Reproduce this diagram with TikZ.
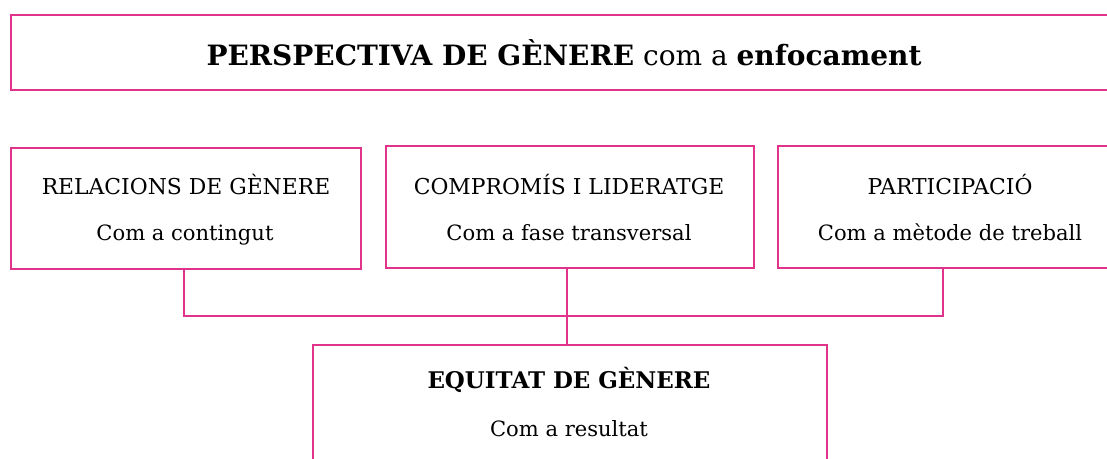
\documentclass[tikz,border=0pt]{standalone}
\usepackage{fontspec}
\setmainfont{DejaVu Serif}
\definecolor{pinkline}{HTML}{DF348A}
\begin{document}
\begin{tikzpicture}[x=0.75pt,y=-0.75pt,
  box/.style={draw=pinkline,line width=1.45pt,rectangle,inner sep=0pt},
  conn/.style={draw=pinkline,line width=1.45pt},
  capt/.style={anchor=base,inner sep=0pt,font=\fontsize{16.4pt}{19pt}\selectfont},
  txt/.style={anchor=base,inner sep=0pt,font=\fontsize{15.8pt}{19pt}\selectfont},
  bcapt/.style={anchor=base,inner sep=0pt,font=\fontsize{17.2pt}{20pt}\selectfont\bfseries},
  ttl/.style={anchor=base,inner sep=0pt,font=\fontsize{21pt}{25pt}\selectfont}]
\useasboundingbox (0,0) rectangle (1107,459);
\clip (0,0) rectangle (1107,459);
% boxes
\node[box,minimum width=829.5pt,minimum height=56.25pt] (title) at (564,52.5) {};
\node[box,minimum width=262.5pt,minimum height=90.75pt] (b1) at (186,208.5) {};
\node[box,minimum width=276pt,minimum height=91.5pt] (b2) at (570,207) {};
\node[box,minimum width=258pt,minimum height=91.5pt] (b3) at (950,207) {};
\node[box,minimum width=385.5pt,minimum height=101.25pt] (b4) at (570,412.5) {};
% texts
\node[ttl] (tt) at (564,66) {\textbf{PERSPECTIVA DE GÈNERE} com a \textbf{enfocament}};
\node[capt] (t1a) at (186,195) {RELACIONS DE GÈNERE};
\node[txt] (t1b) at (185,241) {Com a contingut};
\node[capt] (t2a) at (569,195) {COMPROMÍS I LIDERATGE};
\node[txt] (t2b) at (569,241) {Com a fase transversal};
\node[capt] (t3a) at (950,195) {PARTICIPACIÓ};
\node[txt] (t3b) at (950,241) {Com a mètode de treball};
\node[bcapt] (t4a) at (569,389) {EQUITAT DE GÈNERE};
\node[txt] (t4b) at (569,437) {Com a resultat};
% connectors
\coordinate (j1) at (184,316);
\coordinate (j2) at (567,316);
\coordinate (j3) at (943,316);
\draw[conn] (b1.south -| j1) -- (j1) -- (j3) -- (b3.south -| j3);
\draw[conn] (b2.south -| j2) -- (b4.north -| j2);
\end{tikzpicture}
\end{document}
